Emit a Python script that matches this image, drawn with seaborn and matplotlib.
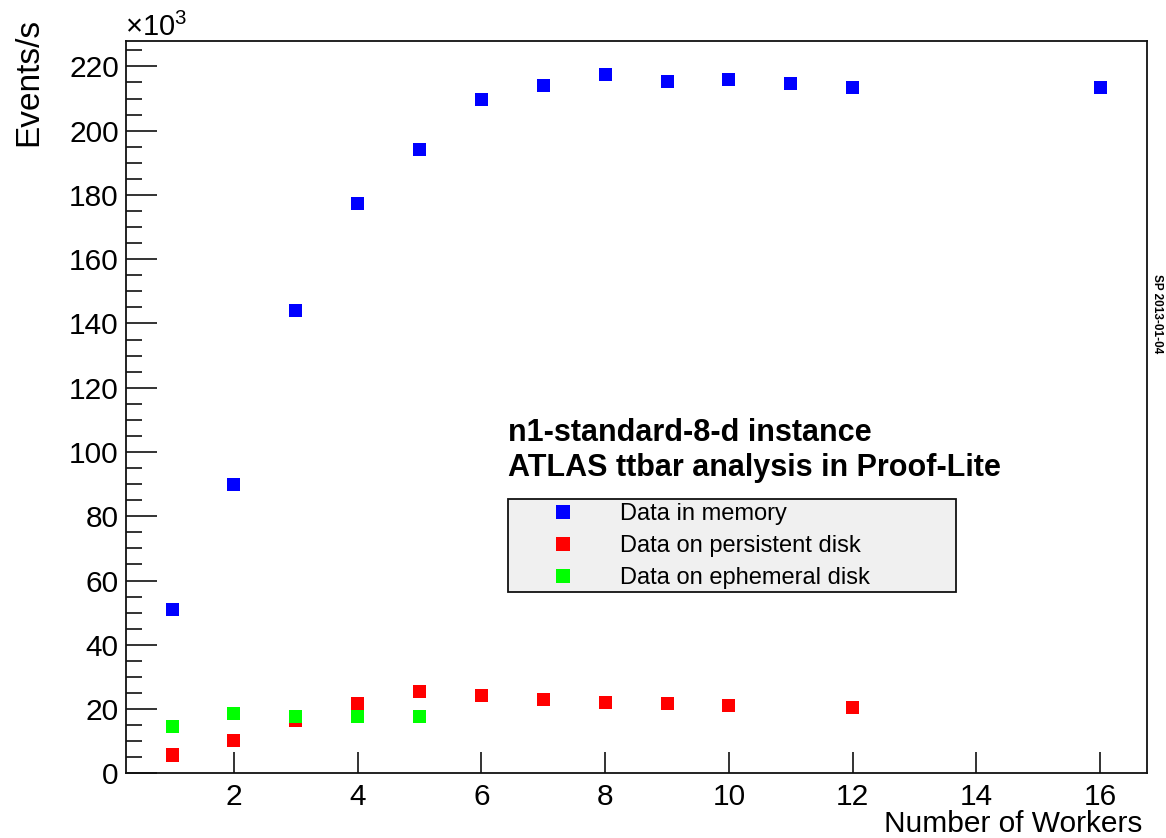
import matplotlib
matplotlib.use("Agg")
import matplotlib.pyplot as plt
from matplotlib.ticker import MultipleLocator
import pandas as pd
import seaborn as sns

# Throughput (thousands of events per second) versus number of PROOF-Lite workers
workers_memory = [1, 2, 3, 4, 5, 6, 7, 8, 9, 10, 11, 12, 16]
rate_memory = [51.1, 90.0, 143.9, 177.4, 194.2, 209.8, 214.2, 217.6, 215.4, 216.0, 214.8, 213.5, 213.5]

workers_persistent = [1, 2, 3, 4, 5, 6, 7, 8, 9, 10, 12]
rate_persistent = [5.7, 10.1, 16.3, 21.6, 25.6, 24.2, 23.1, 21.9, 21.6, 21.0, 20.6]

workers_ephemeral = [1, 2, 3, 4, 5]
rate_ephemeral = [14.5, 18.7, 17.6, 17.6, 17.6]

series_names = ["Data in memory", "Data on persistent disk", "Data on ephemeral disk"]
series_colors = ["#0000ff", "#ff0000", "#00ff00"]

frames = []
for name, wx, ry in zip(series_names,
                        [workers_memory, workers_persistent, workers_ephemeral],
                        [rate_memory, rate_persistent, rate_ephemeral]):
    frames.append(pd.DataFrame({"workers": wx, "rate": ry, "setup": name}))
df = pd.concat(frames, ignore_index=True)

sns.set_style("ticks")
plt.rcParams["font.family"] = ["Liberation Sans", "DejaVu Sans"]
plt.rcParams["mathtext.fontset"] = "custom"
plt.rcParams["mathtext.rm"] = "Liberation Sans"
plt.rcParams["mathtext.it"] = "Liberation Sans"
plt.rcParams["text.color"] = "black"
plt.rcParams["axes.labelcolor"] = "black"
plt.rcParams["xtick.color"] = "black"
plt.rcParams["ytick.color"] = "black"

ink = "#111111"

fig = plt.figure(figsize=(11.66, 8.38), dpi=100)
ax = fig.add_axes([0.1078, 0.0772, 0.8756, 0.8742])

sns.scatterplot(data=df, x="workers", y="rate", hue="setup",
                hue_order=series_names, palette=series_colors,
                marker="s", s=88, linewidth=0, ax=ax, legend=True, zorder=3)

ax.set_xlim(0.25, 16.75)
ax.set_ylim(0, 228)
ax.xaxis.set_major_locator(MultipleLocator(2))
ax.yaxis.set_major_locator(MultipleLocator(20))
ax.yaxis.set_minor_locator(MultipleLocator(5))

for side in ["left", "right", "top", "bottom"]:
    ax.spines[side].set_visible(True)
    ax.spines[side].set_linewidth(1.3)
    ax.spines[side].set_color(ink)

ax.tick_params(axis="y", which="major", direction="in", length=22, width=1.2,
               labelsize=21.5, pad=5, color=ink, labelcolor="black", right=False)
ax.tick_params(axis="y", which="minor", direction="in", length=11.5, width=1.2,
               color=ink, right=False)
ax.tick_params(axis="x", which="major", direction="in", length=15, width=1.2,
               labelsize=21.5, pad=7, color=ink, labelcolor="black", top=False)
ax.tick_params(axis="x", which="minor", bottom=False, top=False)

ax.set_xlabel("Number of Workers", fontsize=21.5, loc="right", color="black")
ax.xaxis.set_label_coords(0.9963, -0.050)
ax.set_ylabel("Events/s", fontsize=24, loc="top", color="black")
ax.yaxis.set_label_coords(-0.080, 1.031)

fig.text(125 / 1166, 1 - 36 / 838, r"$\times10^{3}$", fontsize=21,
         ha="left", va="baseline", color="black")

ax.text(0.374, 0.4645, "n1-standard-8-d instance", transform=ax.transAxes,
        fontsize=22, fontweight="bold", ha="left", va="center", color="black")
ax.text(0.374, 0.4167, "ATLAS ttbar analysis in Proof-Lite", transform=ax.transAxes,
        fontsize=22, fontweight="bold", ha="left", va="center", color="black")

handles, labels = ax.get_legend_handles_labels()
leg = ax.legend(handles, labels, loc="upper left",
                bbox_to_anchor=(0.3741, 0.2488, 0.4391, 0.125), mode="expand",
                borderaxespad=0, borderpad=0.15, handlelength=4.4,
                handletextpad=0.23, labelspacing=0.42, fontsize=17,
                frameon=True, fancybox=False, framealpha=1, markerscale=1.0)
leg.get_frame().set_facecolor("#f0f0f0")
leg.get_frame().set_edgecolor(ink)
leg.get_frame().set_linewidth(1.3)
for t in leg.get_texts():
    t.set_color("black")

fig.text(1157 / 1166, 1 - 314 / 838, "SP 2013-01-04", fontsize=8.5,
         fontweight="bold", rotation=-90, ha="center", va="center", color="black")

fig.savefig("out.png", dpi=100)
